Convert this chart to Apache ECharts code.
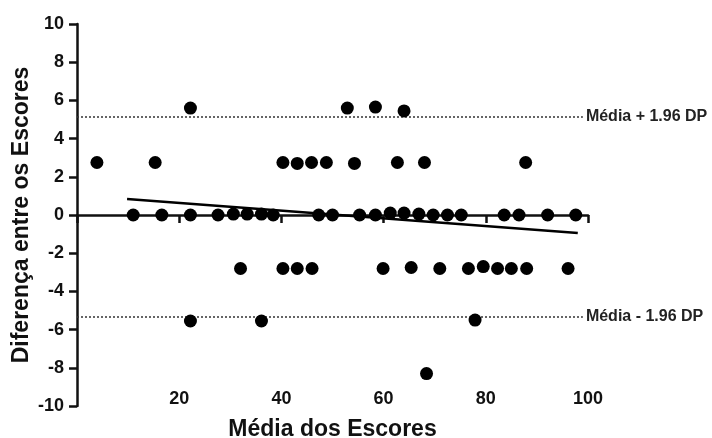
<!DOCTYPE html>
<html>
<head>
    <meta charset="utf-8"/>
    <title>Bland-Altman</title>
    <script src="https://cdn.jsdelivr.net/npm/echarts@6/dist/echarts.min.js"></script>
    <style>
        html, body { margin: 0; padding: 0; background: #fff; }
        #chart { width: 712px; height: 438px; }
    </style>
</head>
<body>
<div id="chart"></div>
<script>
    // média dos escores (x) e diferença entre os escores (y)
    var mediaX = [
        22.2, 52.9, 58.4, 64.0,
        3.9, 15.3, 40.3, 43.1, 45.9, 48.8, 54.3, 62.7, 68.0, 87.8,
        11.0, 16.6, 22.2, 27.6, 30.6, 33.3, 36.1, 38.4, 47.3, 50.0, 55.3,
        58.4, 61.3, 64.0, 66.9, 69.7, 72.5, 75.2, 83.6, 86.5, 92.1, 97.6,
        32.0, 40.3, 43.1, 46.0, 59.9, 65.4, 71.0, 76.6, 79.5, 82.3, 85.0, 88.0, 96.1,
        22.2, 36.1, 77.9,
        68.4
    ];
    var difY = [
        5.6, 5.6, 5.65, 5.45,
        2.75, 2.75, 2.75, 2.7, 2.75, 2.75, 2.7, 2.75, 2.75, 2.75,
        0, 0, 0, 0, 0.05, 0.05, 0.05, 0, 0, 0, 0,
        0, 0.1, 0.1, 0.05, 0, 0, 0, 0, 0, 0, 0,
        -2.8, -2.8, -2.8, -2.8, -2.8, -2.75, -2.8, -2.8, -2.7, -2.8, -2.8, -2.8, -2.8,
        -5.55, -5.55, -5.5,
        -8.3
    ];
    // reta de regressão
    var regX = [9.8, 98];
    var regY = [0.84, -0.94];
    // limites de concordância
    var limSup = 5.15;
    var limInf = -5.32;
    var limFimX = 99;
    var xTicks = [20, 40, 60, 80, 100];

    var pontos = [];
    for (var i = 0; i < mediaX.length; i++) {
        pontos.push([mediaX[i], difY[i]]);
    }
    var reta = [];
    for (var j = 0; j < regX.length; j++) {
        reta.push([regX[j], regY[j]]);
    }

    var fonte = 'Liberation Sans, Arial, sans-serif';

    var option = {
        animation: false,
        grid: { left: 77, right: 124, top: 24, bottom: 32, containLabel: false, outerBoundsMode: 'none' },
        xAxis: [
            {
                // só os rótulos, em baixo
                type: 'value', min: 0, max: 100, interval: 20,
                position: 'bottom', offset: -22,
                axisLine: { show: false }, axisTick: { show: false }, splitLine: { show: false },
                axisLabel: {
                    fontFamily: fonte, fontWeight: 'bold', fontSize: 18, color: '#111', margin: 6,
                    formatter: function (v) { return xTicks.indexOf(v) >= 0 ? String(v) : ''; }
                },
                name: 'Média dos Escores', nameLocation: 'middle', nameGap: 34,
                nameTextStyle: { fontFamily: fonte, fontWeight: 'bold', fontSize: 23, color: '#111' }
            },
            {
                // linha do eixo passando pelo zero (deslocada do topo até y = 0)
                type: 'value', min: 0, max: 100, interval: 20,
                position: 'top', offset: -191,
                axisLine: { show: true, onZero: false, lineStyle: { color: '#111', width: 2.5 } },
                axisTick: { show: true, inside: true, length: 8, lineStyle: { color: '#111', width: 2.5 } },
                axisLabel: { show: false }, splitLine: { show: false }
            }
        ],
        yAxis: {
            type: 'value', min: -10, max: 10, interval: 2,
            axisLine: { show: true, onZero: false, lineStyle: { color: '#111', width: 2.5 } },
            axisTick: { show: true, length: 8, lineStyle: { color: '#111', width: 2.5 } },
            splitLine: { show: false },
            axisLabel: { fontFamily: fonte, fontWeight: 'bold', fontSize: 18, color: '#111', margin: 13 },
            name: 'Diferença entre os Escores', nameLocation: 'middle', nameGap: 44,
            nameMoveOverlap: false,
            nameTextStyle: { fontFamily: fonte, fontWeight: 'bold', fontSize: 23, color: '#111' }
        },
        series: [
            {
                type: 'scatter', data: pontos, symbolSize: 13,
                itemStyle: { color: '#000', opacity: 1 }, z: 5
            },
            {
                type: 'line', data: reta, symbol: 'none',
                lineStyle: { color: '#000', width: 2.5 },
                markLine: {
                    silent: true, symbol: ['none', 'none'],
                    lineStyle: { color: '#333', width: 1.5, type: [2, 2] },
                    label: {
                        show: true, position: 'end', distance: 3,
                        fontFamily: fonte, fontWeight: 'bold', fontSize: 16, color: '#222'
                    },
                    data: [
                        [{ coord: [0, limSup], label: { formatter: 'Média + 1.96 DP' } }, { coord: [limFimX, limSup] }],
                        [{ coord: [0, limInf], label: { formatter: 'Média - 1.96 DP' } }, { coord: [limFimX, limInf] }]
                    ]
                }
            }
        ]
    };

    var myChart = echarts.init(document.getElementById('chart'));
    myChart.setOption(option);
</script>
</body>
</html>
